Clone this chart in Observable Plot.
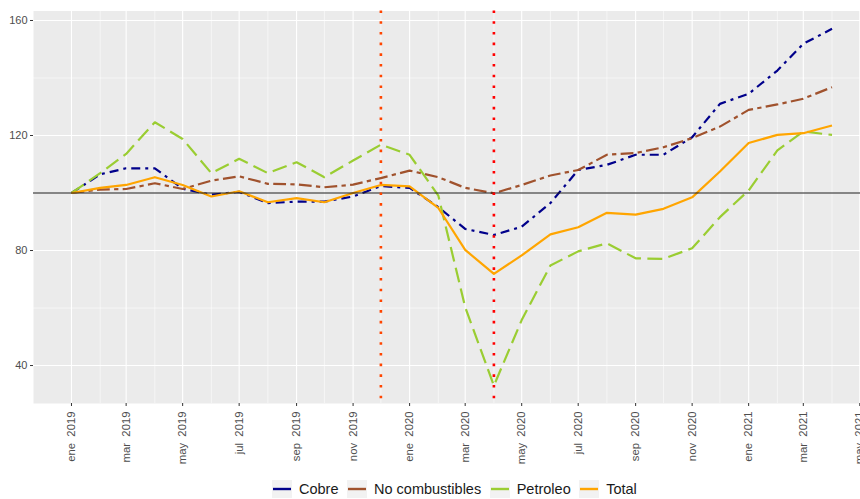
<!DOCTYPE html>
<html>
<head>
<meta charset="utf-8">
<script src="https://cdn.jsdelivr.net/npm/d3@7"></script>
<script src="https://cdn.jsdelivr.net/npm/@observablehq/plot@0.6"></script>
<style>
  html, body { margin: 0; padding: 0; background: #fff; overflow: hidden; }
  body { width: 860px; height: 499px; position: relative; font-family: "Liberation Sans", Arial, sans-serif; }
  #chart svg { display: block; }
  #legend { position: absolute; left: 272px; top: 480px; display: flex; align-items: center; height: 18px; }
  .item { display: flex; align-items: center; margin-right: 8.5px; }
  .item span { margin-left: 7px; font-size: 14.5px; color: #1a1a1a; line-height: 18px; }
</style>
</head>
<body>
<div id="chart"></div>
<div id="legend"></div>
<script>
// ---- data (monthly index, ene 2019 = 100) ----
const months = ["2019-01","2019-02","2019-03","2019-04","2019-05","2019-06","2019-07","2019-08","2019-09","2019-10","2019-11","2019-12",
                "2020-01","2020-02","2020-03","2020-04","2020-05","2020-06","2020-07","2020-08","2020-09","2020-10","2020-11","2020-12",
                "2021-01","2021-02","2021-03","2021-04"];
const cobre = [100, 106.5, 108.6, 108.6, 101.5, 99.4, 100.4, 96.5, 97, 97, 98.8, 102.4,
               101.8, 95.1, 87.5, 85.4, 88.3, 96.5, 108, 109.8, 113.3, 113.3, 119.4, 131,
               134.5, 142.6, 151.9, 157.1];
const noCombustibles = [100, 101.2, 101.4, 103.4, 101.4, 104.3, 105.8, 103.2, 103, 102, 102.9, 105.2,
                        107.8, 105.5, 101.8, 99.9, 102.8, 106.1, 108, 113.3, 113.9, 115.9, 119.1, 123.1,
                        128.9, 130.8, 132.8, 136.8];
const petroleo = [100, 106.9, 113.6, 124.6, 118.8, 106.9, 111.9, 106.9, 110.7, 105.5, 111.3, 116.8,
                  113.3, 99.1, 60.3, 33, 55.8, 74.8, 79.7, 82.5, 77.3, 77.1, 80.8, 91.6,
                  100.9, 114.8, 121.4, 120.2];
const total = [100, 101.8, 102.8, 105.5, 102.8, 98.8, 100.6, 96.8, 98.2, 96.8, 100, 102.8,
               102.3, 94.8, 80.2, 71.9, 78.3, 85.6, 88.1, 93.1, 92.5, 94.5, 98.5, 107.5,
               117.4, 120.2, 120.8, 123.5];
const seriesNames = ["Cobre", "No combustibles", "Petroleo", "Total"];
const seriesColors = ["#00008B", "#A0522D", "#9ACD32", "#FFA500"];
const seriesDash = ["9,5,3,5", "12.8,4.3,4.3,4.3", "14.9,6.4", null];
const eventDates = ["2019-12", "2020-04"];
const eventColors = ["#FF4500", "#FF0000"];
const monthLabels = ["ene","feb","mar","abr","may","jun","jul","ago","sep","oct","nov","dic"];
const yTicks = [40, 80, 120, 160];
const yMinor = [60, 100, 140];
const baseline = [100];

// ---- build ----
const parse = d3.utcParse("%Y-%m");
const dates = months.map(parse);
const allValues = [cobre, noCombustibles, petroleo, total];
const tables = allValues.map(vals => dates.map((d, i) => ({date: d, value: vals[i]})));

const xMajor = d3.utcMonth.range(new Date(Date.UTC(2019,0,1)), new Date(Date.UTC(2021,5,1)), 2);
const xMinor = d3.utcMonth.range(new Date(Date.UTC(2019,1,1)), new Date(Date.UTC(2021,4,1)), 2);
const fmt = d => monthLabels[d.getUTCMonth()] + "\u00a0 " + d.getUTCFullYear();

const W = 860, H = 470;
const marks = [
  Plot.frame({fill: "#EBEBEB", stroke: null}),
  Plot.gridY(yMinor, {stroke: "#fff", strokeOpacity: 1, strokeWidth: 0.55}),
  Plot.gridX(xMinor, {stroke: "#fff", strokeOpacity: 1, strokeWidth: 0.55}),
  Plot.gridY(yTicks, {stroke: "#fff", strokeOpacity: 1, strokeWidth: 1.1}),
  Plot.gridX(xMajor, {stroke: "#fff", strokeOpacity: 1, strokeWidth: 1.1}),
];
tables.forEach((t, i) => {
  marks.push(Plot.line(t, {x: "date", y: "value", stroke: seriesColors[i], strokeWidth: 2.2,
    strokeDasharray: seriesDash[i] || undefined, strokeLinejoin: "round", strokeLinecap: "butt"}));
});
marks.push(Plot.ruleY(baseline, {stroke: "#1a1a1a", strokeWidth: 1.1}));
eventDates.forEach((e, i) => {
  marks.push(Plot.ruleX([parse(e)], {stroke: eventColors[i], strokeWidth: 2.6, strokeDasharray: "2.6,8.1"}));
});
marks.push(Plot.axisY(yTicks, {tickSize: 3, tickPadding: 3, fontSize: 11, stroke: "#333", fill: "#4d4d4d", label: null}));
marks.push(Plot.axisX(xMajor, {tickSize: 3, tickPadding: 5, fontSize: 11.3, tickRotate: -90, tickFormat: fmt,
  stroke: "#333", fill: "#4d4d4d", label: null}));

const chart = Plot.plot({
  width: W, height: H,
  marginLeft: 33, marginRight: 0, marginTop: 10.5, marginBottom: H - 403,
  style: {fontFamily: "'Liberation Sans', Arial, sans-serif", background: "#fff", overflow: "hidden"},
  x: {type: "utc", domain: [new Date(Date.UTC(2018,10,21)), new Date(Date.UTC(2021,4,12))], range: [33, 869.5]},
  y: {domain: [26.8, 163.3], range: [403, 10.5]},
  marks
});
document.getElementById("chart").appendChild(chart);

// ---- legend ----
const legend = document.getElementById("legend");
seriesNames.forEach((name, i) => {
  const item = document.createElement("div");
  item.className = "item";
  item.innerHTML = `<svg width="20" height="18"><rect width="20" height="18" fill="#F2F2F2"/>` +
    `<line x1="1" x2="19" y1="9" y2="9" stroke="${seriesColors[i]}" stroke-width="2.4"/></svg><span>${name}</span>`;
  legend.appendChild(item);
});
</script>
</body>
</html>
